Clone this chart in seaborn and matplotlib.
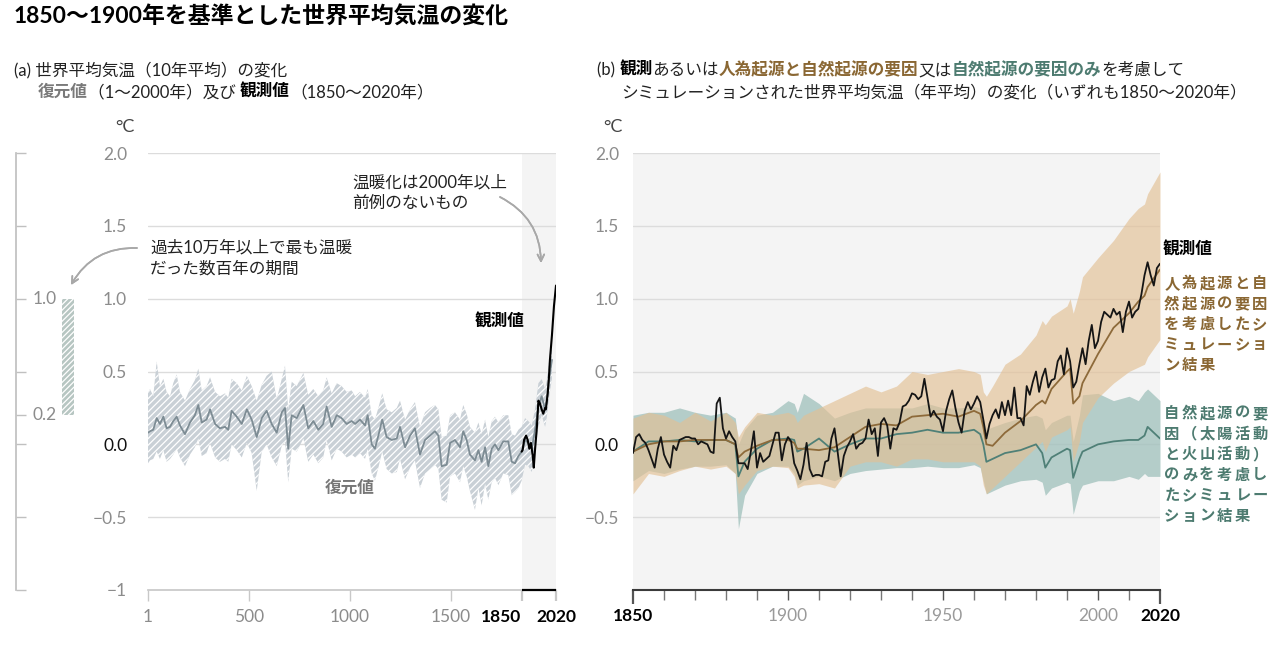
import matplotlib
matplotlib.use("Agg")
import matplotlib.pyplot as plt
import seaborn as sns

# ==============================
# データ
# ==============================
# (a) 復元値：10年平均の中央値と幅
rec_years = [1, 11, 27, 44, 60, 77, 93, 110, 126, 143, 159, 184, 209, 233, 250, 267,
             291, 308, 333, 357, 382, 398, 415, 440, 465, 490, 514, 539, 564, 588, 613,
             638, 663, 679, 695, 712, 737, 770, 794, 819, 844, 868, 885, 910, 935, 959,
             984, 1009, 1026, 1050, 1075, 1088, 1108, 1124, 1141, 1160, 1182, 1207, 1232,
             1248, 1273, 1298, 1322, 1347, 1372, 1397, 1421, 1438, 1454, 1479, 1496, 1520,
             1545, 1561, 1578, 1594, 1619, 1636, 1652, 1669, 1685, 1702, 1718, 1735, 1759,
             1784, 1801, 1817, 1834, 1850, 1867, 1883, 1900, 1916, 1933, 1949, 1966, 1974,
             1990, 2000]
rec_mid = [0.08, 0.09, 0.10, 0.18, 0.14, 0.19, 0.11, 0.12, 0.16, 0.19, 0.13, 0.07, 0.15,
           0.20, 0.27, 0.15, 0.17, 0.24, 0.14, 0.11, 0.12, 0.10, 0.23, 0.19, 0.14, 0.24,
           0.17, 0.05, 0.18, 0.23, 0.14, 0.08, 0.22, 0.25, -0.03, 0.20, 0.18, 0.27, 0.11,
           0.16, 0.10, 0.14, 0.26, 0.12, 0.20, 0.18, 0.14, 0.16, 0.14, 0.17, 0.13, 0.20,
           0.00, -0.03, 0.06, 0.17, 0.05, 0.03, 0.04, 0.12, -0.02, 0.06, 0.11, -0.07,
           0.03, 0.06, 0.09, 0.06, -0.15, -0.14, 0.01, 0.03, -0.02, 0.09, 0.03, -0.07,
           -0.11, -0.04, -0.12, -0.02, -0.15, -0.03, 0.00, -0.04, 0.02, 0.02, -0.12,
           -0.13, -0.08, -0.05, 0.03, 0.01, -0.03, 0.10, 0.26, 0.33, 0.24, 0.30, 0.49, 0.58]
rec_high = [0.35, 0.38, 0.33, 0.57, 0.40, 0.45, 0.36, 0.33, 0.42, 0.48, 0.36, 0.30, 0.38,
            0.44, 0.52, 0.37, 0.40, 0.46, 0.36, 0.33, 0.35, 0.32, 0.45, 0.42, 0.37, 0.47,
            0.40, 0.30, 0.41, 0.47, 0.50, 0.31, 0.45, 0.54, 0.24, 0.43, 0.40, 0.49, 0.34,
            0.38, 0.33, 0.37, 0.46, 0.35, 0.42, 0.40, 0.36, 0.37, 0.33, 0.36, 0.32, 0.38,
            0.20, 0.17, 0.25, 0.35, 0.24, 0.22, 0.25, 0.30, 0.17, 0.24, 0.29, 0.12, 0.22,
            0.25, 0.27, 0.24, 0.05, 0.06, 0.20, 0.22, 0.17, 0.27, 0.21, 0.12, 0.08, 0.15,
            0.07, 0.17, 0.05, 0.16, 0.19, 0.15, 0.20, 0.20, 0.07, 0.06, 0.10, 0.12, 0.18,
            0.16, 0.13, 0.24, 0.42, 0.45, 0.38, 0.44, 0.62, 0.68]
rec_low = [-0.13, -0.11, -0.10, -0.05, -0.10, -0.04, -0.12, -0.10, -0.07, -0.03, -0.09,
           -0.15, -0.07, -0.02, 0.04, -0.08, -0.06, 0.01, -0.09, -0.12, -0.10, -0.12, 0.00,
           -0.04, -0.09, 0.01, -0.06, -0.32, -0.05, 0.00, -0.09, -0.15, -0.01, 0.02, -0.26,
           -0.03, -0.05, 0.04, -0.12, -0.07, -0.13, -0.09, 0.03, -0.11, -0.03, -0.05, -0.09,
           -0.07, -0.09, -0.06, -0.10, -0.03, -0.20, -0.25, -0.16, -0.05, -0.17, -0.20,
           -0.19, -0.10, -0.24, -0.16, -0.11, -0.30, -0.20, -0.17, -0.14, -0.17, -0.38,
           -0.40, -0.22, -0.20, -0.26, -0.15, -0.22, -0.32, -0.45, -0.30, -0.42, -0.27,
           -0.38, -0.26, -0.23, -0.28, -0.20, -0.21, -0.35, -0.33, -0.30, -0.25, -0.14,
           -0.15, -0.19, -0.06, 0.12, 0.20, 0.12, 0.18, 0.36, 0.45]

# (a) 観測値：10年平均
obs10_years = [1850, 1855, 1862, 1872, 1880, 1888, 1896, 1905, 1910, 1916, 1925, 1933,
               1941, 1949, 1957, 1966, 1970, 1979, 1985, 1990, 2000, 2010, 2020]
obs10_vals = [-0.05, -0.04, 0.03, 0.06, 0.03, -0.03, 0.01, -0.08, -0.16, -0.04, 0.11, 0.30,
              0.28, 0.24, 0.21, 0.25, 0.24, 0.35, 0.46, 0.58, 0.75, 0.95, 1.09]

# 過去10万年以上で最も温暖だった期間
warm_low, warm_high = 0.2, 1.0

# (b) 観測値：年平均 1850〜2020
obs_years = list(range(1850, 2021))
obs_vals = [-0.06, 0.05, 0.07, 0.03, 0.01, -0.04, -0.10, -0.16, -0.03, 0.05,
            -0.07, -0.12, -0.16, -0.01, -0.04, 0.03, 0.04, 0.05, 0.05, 0.04,
            0.04, 0.00, 0.02, 0.01, 0.00, -0.05, -0.06, 0.28, 0.32, 0.11,
            0.04, 0.09, 0.05, 0.02, -0.13, -0.13, -0.13, -0.17, -0.05, 0.09,
            -0.16, -0.06, -0.12, -0.10, -0.08, 0.00, 0.08, 0.08, -0.11, 0.00,
            0.05, 0.02, -0.13, -0.18, -0.24, -0.14, 0.01, -0.17, -0.22, -0.21,
            -0.21, -0.22, -0.12, -0.11, 0.04, 0.11, -0.05, -0.22, -0.08, -0.02,
            0.02, 0.07, -0.03, 0.00, 0.01, 0.04, 0.17, 0.07, 0.11, -0.08,
            0.15, 0.18, 0.13, -0.03, 0.11, 0.10, 0.15, 0.26, 0.27, 0.30,
            0.35, 0.34, 0.31, 0.33, 0.45, 0.32, 0.19, 0.23, 0.19, 0.17,
            0.09, 0.23, 0.31, 0.37, 0.25, 0.15, 0.08, 0.23, 0.29, 0.24,
            0.28, 0.33, 0.29, 0.17, 0.04, 0.14, 0.20, 0.24, 0.18, 0.29,
            0.20, 0.30, 0.20, 0.39, 0.18, 0.18, 0.13, 0.40, 0.34, 0.43,
            0.50, 0.36, 0.46, 0.52, 0.39, 0.44, 0.45, 0.57, 0.61, 0.48,
            0.66, 0.57, 0.39, 0.43, 0.55, 0.66, 0.55, 0.71, 0.82, 0.66,
            0.71, 0.84, 0.91, 0.89, 0.87, 0.93, 0.89, 0.91, 0.77, 0.91,
            0.98, 0.87, 0.91, 0.93, 1.03, 1.16, 1.25, 1.16, 1.09, 1.21,
            1.24]

# (b) シミュレーション
sim_years = [1850, 1855, 1860, 1865, 1870, 1875, 1880, 1883, 1884, 1886, 1890, 1895,
             1900, 1902, 1903, 1905, 1910, 1915, 1920, 1925, 1930, 1935, 1940, 1945,
             1950, 1955, 1960, 1962, 1963, 1964, 1966, 1970, 1975, 1980, 1982, 1983,
             1985, 1990, 1991, 1992, 1994, 1995, 2000, 2005, 2010, 2013, 2015, 2016, 2020]
hist_mid = [-0.05, 0.00, 0.02, 0.02, 0.03, 0.03, 0.03, 0.00, -0.09, -0.05, -0.01, 0.03,
            0.03, 0.01, -0.03, -0.03, -0.04, -0.02, 0.05, 0.12, 0.14, 0.13, 0.19, 0.20,
            0.21, 0.19, 0.23, 0.21, 0.12, 0.00, -0.01, 0.08, 0.16, 0.27, 0.30, 0.28,
            0.38, 0.50, 0.52, 0.28, 0.33, 0.42, 0.62, 0.80, 0.90, 0.98, 1.02, 1.08, 1.20]
hist_high = [0.18, 0.22, 0.20, 0.15, 0.22, 0.16, 0.22, 0.15, 0.05, 0.12, 0.22, 0.20,
             0.22, 0.20, 0.15, 0.20, 0.25, 0.30, 0.35, 0.40, 0.36, 0.40, 0.50, 0.48,
             0.50, 0.52, 0.50, 0.48, 0.36, 0.33, 0.40, 0.55, 0.62, 0.75, 0.85, 0.82,
             0.88, 0.95, 1.00, 0.90, 1.05, 1.15, 1.28, 1.40, 1.55, 1.62, 1.65, 1.72, 1.87]
hist_low = [-0.34, -0.20, -0.22, -0.18, -0.15, -0.17, -0.15, -0.20, -0.34, -0.28, -0.18,
            -0.15, -0.16, -0.22, -0.30, -0.28, -0.27, -0.30, -0.15, -0.12, -0.12, -0.15,
            -0.10, -0.10, -0.12, -0.12, -0.12, -0.15, -0.28, -0.34, -0.30, -0.22, -0.12,
            -0.02, 0.02, -0.05, 0.05, 0.10, 0.12, -0.12, 0.02, 0.15, 0.32, 0.42, 0.50,
            0.53, 0.55, 0.60, 0.72]
nat_mid = [-0.05, 0.02, 0.02, 0.03, 0.02, 0.03, 0.03, 0.00, -0.22, -0.12, -0.03, 0.03,
           0.04, 0.03, -0.05, -0.03, 0.04, -0.05, 0.00, 0.04, 0.04, 0.07, 0.08, 0.10,
           0.08, 0.08, 0.10, 0.07, 0.00, -0.12, -0.10, -0.06, -0.04, 0.00, -0.06, -0.16,
           -0.09, -0.03, -0.04, -0.23, -0.10, -0.05, 0.00, 0.02, 0.03, 0.03, 0.06, 0.12, 0.04]
nat_high = [0.20, 0.22, 0.22, 0.25, 0.22, 0.20, 0.22, 0.18, 0.00, 0.10, 0.20, 0.22,
            0.30, 0.28, 0.22, 0.35, 0.28, 0.18, 0.22, 0.25, 0.25, 0.25, 0.25, 0.28,
            0.25, 0.25, 0.26, 0.25, 0.18, 0.10, 0.12, 0.15, 0.18, 0.20, 0.18, 0.10,
            0.15, 0.20, 0.20, 0.02, 0.20, 0.34, 0.35, 0.30, 0.33, 0.30, 0.36, 0.38, 0.30]
nat_low = [-0.25, -0.18, -0.20, -0.17, -0.15, -0.15, -0.14, -0.20, -0.58, -0.35, -0.20,
           -0.15, -0.15, -0.20, -0.28, -0.25, -0.22, -0.25, -0.20, -0.18, -0.17, -0.16,
           -0.16, -0.15, -0.16, -0.16, -0.14, -0.16, -0.25, -0.34, -0.32, -0.28, -0.25,
           -0.24, -0.26, -0.35, -0.30, -0.26, -0.27, -0.48, -0.32, -0.28, -0.25, -0.25,
           -0.22, -0.24, -0.20, -0.22, -0.22]

# 軸の目盛り
yticks_main = [2.0, 1.5, 1.0, 0.5, 0.0, -0.5, -1.0]
ylabels_a = ["2.0", "1.5", "1.0", "0.5", "0.0", "−0.5", "−1"]
ylabels_b = ["2.0", "1.5", "1.0", "0.5", "0.0", "−0.5", ""]
xticks_a = [1, 500, 1000, 1500, 1850, 2020]
xticks_b = [1850, 1900, 1950, 2000, 2020]
range_ticks = [2.0, 1.5, 1.0, 0.5, 0.2, 0.0, -0.5, -1.0]

# ==============================
# スタイル
# ==============================
sns.set_theme(style="white")
plt.rcParams["font.family"] = ["Lato", "Noto Sans CJK JP", "DejaVu Sans"]
plt.rcParams["hatch.linewidth"] = 0.9

W, H = 1287, 651
GRID = "#dcdcdc"
TICKC = "#8c8c8c"
BROWN = "#8a6733"
TEAL = "#4d7b70"
REC_LINE = "#7d8c94"
JP = ["Noto Sans CJK JP", "DejaVu Sans"]

fig = plt.figure(figsize=(W / 100, H / 100), dpi=100)


def fx(px):
    return px / W


def fy(py):
    return 1 - py / H


ax_a = fig.add_axes([fx(148), fy(590), (556 - 148) / W, (590 - 153) / H])
ax_b = fig.add_axes([fx(633), fy(590), (1160 - 633) / W, (590 - 153) / H])
ax_r = fig.add_axes([fx(16), fy(590), 60 / W, (590 - 153) / H])

# ==============================
# (a) パネル
# ==============================
ax_a.axvspan(1850, 2020, color="#f4f4f4", lw=0, zorder=0)
for v in yticks_main[:-1]:
    ax_a.axhline(v, color=GRID, lw=1, zorder=1)
ax_a.fill_between(rec_years, rec_low, rec_high, facecolor="#c9d0d6",
                  edgecolor="white", hatch="/////", lw=0, zorder=2)
sns.lineplot(x=rec_years, y=rec_mid, ax=ax_a, color=REC_LINE, lw=1.3, zorder=3)
sns.lineplot(x=obs10_years, y=obs10_vals, ax=ax_a, color="black", lw=1.5, zorder=4)
ax_a.hlines(-1.0, 1850, 2020, color="black", lw=1.6, zorder=5, clip_on=False)

ax_a.set_xlim(1, 2020)
ax_a.set_ylim(-1, 2)
for s in ["top", "right", "left"]:
    ax_a.spines[s].set_visible(False)
ax_a.spines["bottom"].set_color("#c8c8c8")
ax_a.set_yticks(yticks_main)
ax_a.set_yticklabels(ylabels_a)
ax_a.tick_params(axis="y", length=0, pad=15, labelsize=12.5, labelcolor=TICKC)
ax_a.get_yticklabels()[4].set_color("#111111")
ax_a.set_xticks(xticks_a)
ax_a.set_xticklabels([str(t) for t in xticks_a])
ax_a.tick_params(axis="x", length=8, width=1, color="#c8c8c8", pad=6,
                 labelsize=12.5, labelcolor=TICKC, bottom=True)
for i, tk in enumerate(ax_a.xaxis.get_major_ticks()):
    if xticks_a[i] >= 1850:
        tk.tick1line.set_color("black")
        tk.tick1line.set_markeredgewidth(1.6)
        tk.label1.set_color("black")
        tk.label1.set_fontweight("bold")
ax_a.get_xticklabels()[4].set_ha("right")
ax_a.set_xlabel("")
ax_a.set_ylabel("")

# 温暖期の幅（左端の棒）
ax_r.set_xlim(0, 1)
ax_r.set_ylim(-1, 2)
ax_r.bar(0.87, warm_high - warm_low, bottom=warm_low, width=0.19,
         color="#b7c6c2", edgecolor="white", hatch="//////", lw=0)
for s in ["top", "right", "bottom"]:
    ax_r.spines[s].set_visible(False)
ax_r.spines["left"].set_color("#c0c0c0")
ax_r.set_xticks([])
ax_r.set_yticks(range_ticks)
ax_r.set_yticklabels([])
ax_r.tick_params(axis="y", direction="in", length=7, color="#c0c0c0", width=1, left=True)
for v in (warm_high, warm_low):
    ax_r.text(0.27, v, f"{v:.1f}", color=TICKC, fontsize=12.5, va="center", ha="left")
ax_r.patch.set_alpha(0)

# ==============================
# (b) パネル
# ==============================
ax_b.set_facecolor("#f4f4f4")
for v in yticks_main[:-1]:
    ax_b.axhline(v, color=GRID, lw=1, zorder=1)
ax_b.fill_between(sim_years, nat_low, nat_high, color="#9fc0bb", alpha=0.75, lw=0, zorder=2)
ax_b.fill_between(sim_years, hist_low, hist_high, color="#e3c094", alpha=0.65, lw=0, zorder=3)
sns.lineplot(x=sim_years, y=nat_mid, ax=ax_b, color="#4f8077", lw=1.3, zorder=4)
sns.lineplot(x=sim_years, y=hist_mid, ax=ax_b, color="#8d6a3a", lw=1.3, zorder=5)
sns.lineplot(x=obs_years, y=obs_vals, ax=ax_b, color="#151515", lw=1.3, zorder=6)

ax_b.set_xlim(1850, 2020)
ax_b.set_ylim(-1, 2)
for s in ["top", "right", "left"]:
    ax_b.spines[s].set_visible(False)
ax_b.spines["bottom"].set_color("#3a3a3a")
ax_b.spines["bottom"].set_linewidth(1.5)
ax_b.set_yticks(yticks_main)
ax_b.set_yticklabels(ylabels_b)
ax_b.tick_params(axis="y", length=0, pad=10, labelsize=12.5, labelcolor=TICKC)
ax_b.get_yticklabels()[4].set_color("#111111")
ax_b.set_xticks(xticks_b)
ax_b.set_xticklabels([str(t) for t in xticks_b])
ax_b.set_xticks(list(range(1860, 2020, 10)), minor=True)
ax_b.tick_params(axis="x", which="major", length=7, width=1, color="#555555", pad=6,
                 labelsize=12.5, labelcolor="#9a9a9a", bottom=True)
ax_b.tick_params(axis="x", which="minor", length=7, width=1, color="#777777", bottom=True)
for i, tk in enumerate(ax_b.xaxis.get_major_ticks()):
    if xticks_b[i] in (1850, 2020):
        tk.tick1line.set_markersize(10)
        tk.tick1line.set_color("black")
        tk.tick1line.set_markeredgewidth(1.6)
        tk.label1.set_color("black")
        tk.label1.set_fontweight("bold")
ax_b.set_xlabel("")
ax_b.set_ylabel("")

# ==============================
# テキスト
# ==============================
renderer = fig.canvas.get_renderer()


def rich_text(x_px, y_px, parts, size=12):
    x = x_px
    for s, color, weight in parts:
        t = fig.text(fx(x), fy(y_px), s, color=color, fontweight=weight,
                     fontsize=size, va="center", ha="left")
        x += t.get_window_extent(renderer).width


def spaced_lines(x_px, y_px, lines, color, step=17.6, lead=20.5, size=11):
    for j, line in enumerate(lines):
        for i, ch in enumerate(line):
            fig.text(fx(x_px + step * (i + 0.5)), fy(y_px + lead * j), ch, color=color,
                     fontsize=size, fontweight="bold", ha="center", va="center", family=JP)


fig.text(fx(14), fy(17), "1850〜1900年を基準とした世界平均気温の変化",
         fontsize=16.5, fontweight="bold", color="black", va="center", ha="left")

rich_text(14, 70, [("(a) 世界平均気温（10年平均）の変化", "#222222", "normal")])
rich_text(38, 92, [("復元値", "#7a7a7a", "bold"), ("（1〜2000年）及び ", "#222222", "normal"),
                   ("観測値", "black", "bold"), ("（1850〜2020年）", "#222222", "normal")])
rich_text(597, 70, [("(b) ", "#222222", "normal"), ("観測", "black", "bold"),
                    ("あるいは", "#222222", "normal"), ("人為起源と自然起源の要因", BROWN, "bold"),
                    ("又は", "#222222", "normal"), ("自然起源の要因のみ", TEAL, "bold"),
                    ("を考慮して", "#222222", "normal")])
rich_text(621, 92, [("シミュレーションされた世界平均気温（年平均）の変化（いずれも1850〜2020年）",
                     "#222222", "normal")])

fig.text(fx(135), fy(127), "°C", fontsize=13, color="#444444", ha="right", va="center")
fig.text(fx(623), fy(127), "°C", fontsize=13, color="#444444", ha="right", va="center")

fig.text(fx(352), fy(193), "温暖化は2000年以上\n前例のないもの", fontsize=12,
         color="#222222", ha="left", va="center", linespacing=1.35)
fig.text(fx(150), fy(258), "過去10万年以上で最も温暖\nだった数百年の期間", fontsize=12,
         color="#222222", ha="left", va="center", linespacing=1.35)
fig.text(fx(500), fy(322), "観測値", fontsize=12, fontweight="bold", color="black",
         ha="center", va="center")
fig.text(fx(350), fy(488), "復元値", fontsize=12, fontweight="bold", color="#777777",
         ha="center", va="center")

arrow = dict(arrowstyle="->", color="#a8a8a8", lw=1.2, shrinkA=0, shrinkB=0)
fig.add_artist(plt.annotate("", xy=(fx(541), fy(263)), xytext=(fx(500), fy(197)),
                            xycoords="figure fraction", textcoords="figure fraction",
                            arrowprops=dict(arrow, connectionstyle="arc3,rad=-0.3")))
fig.add_artist(plt.annotate("", xy=(fx(71), fy(285)), xytext=(fx(137), fy(248)),
                            xycoords="figure fraction", textcoords="figure fraction",
                            arrowprops=dict(arrow, connectionstyle="arc3,rad=0.3")))

fig.text(fx(1163), fy(250), "観測値", fontsize=12, fontweight="bold", color="black",
         ha="left", va="center")
spaced_lines(1163, 283, ["人為起源と自", "然起源の要因", "を考慮したシ", "ミュレーショ", "ン結果"], BROWN)
spaced_lines(1163, 413, ["自然起源の要", "因（太陽活動", "と火山活動）", "のみを考慮し",
                         "たシミュレー", "ション結果"], TEAL)

fig.savefig("out.png", dpi=100)
